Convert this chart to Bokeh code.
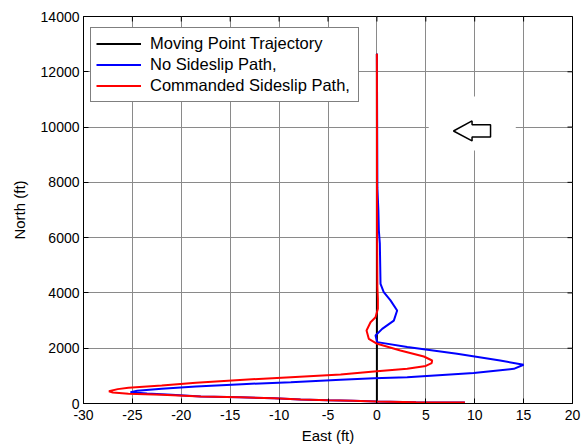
import math
from bokeh.plotting import figure
from bokeh.models import (Legend, LegendItem, FixedTicker, Range1d)
from bokeh.embed import file_html
from bokeh.resources import INLINE

# ---- data (East ft, North ft) ----
black_east = [0.0, 0.0]
black_north = [0, 12650]

red_east = [9.0, 4.0, 0.0, -2.5, -5.0, -7.8, -10.5, -14.0, -18.0, -22.0, -25.4, -27.0,
            -27.4, -26.5, -25.4, -22.0, -18.5, -14.0, -8.8, -3.7, -0.3, 3.1, 5.0, 5.6,
            5.65, 4.8, 2.4, 0.03, -0.83, -1.06, -0.65, -0.14, 0.1, 0.1, 0.05, 0.02, 0.0]
red_north = [35, 45, 75, 100, 120, 145, 190, 228, 253, 315, 350, 400,
             445, 520, 568, 651, 748, 850, 952, 1050, 1158, 1255, 1360, 1460,
             1555, 1700, 1920, 2160, 2340, 2640, 2940, 3120, 3430, 3790, 4210, 6000, 12650]

blue_east = [9.0, 4.0, 0.0, -2.5, -5.0, -7.8, -10.5, -14.0, -18.0, -21.0, -23.5, -25.2,
             -24.5, -22.0, -18.5, -13.8, -8.8, -3.7, -0.3, 3.1, 9.9, 14.0, 15.0, 12.6,
             8.2, 3.1, 0.03, -0.14, 0.54, 1.73, 2.07, 1.39, 0.7, 0.37, 0.3, 0.2, 0.15,
             0.05, 0.0]
blue_north = [35, 45, 75, 100, 120, 145, 190, 228, 253, 320, 360, 410,
              460, 530, 615, 700, 771, 857, 916, 950, 1100, 1255, 1400, 1555,
              1800, 2040, 2220, 2460, 2700, 3000, 3365, 3730, 4030, 4330, 5790, 6260, 7000,
              7800, 12650]

x_ticks = [-30, -25, -20, -15, -10, -5, 0, 5, 10, 15, 20]
y_ticks = [0, 2000, 4000, 6000, 8000, 10000, 12000, 14000]
x_tick_labels = ["-30", "-25", "-20", "-15", "-10", "-5", "0", "5", "10", "15", "20"]

labels = ["Moving Point Trajectory", "No Sideslip Path,", "Commanded Sideslip Path,"]

# annotation (hollow left arrow on white patch)
arrow_box = dict(left=5.3, right=14.2, bottom=9150, top=11110)
arrow_x = [7.83, 9.73, 9.73, 11.62, 11.62, 9.73, 9.73]
arrow_y = [9859, 10221, 10083, 10083, 9643, 9643, 9498]

FONT = "Liberation Sans"
X0, X1 = -30, 20
Y0, Y1 = 0, 14000

p = figure(width=582, height=447, output_backend="svg", toolbar_location=None,
           x_range=Range1d(X0, X1), y_range=Range1d(Y0, Y1),
           min_border_left=83, min_border_right=10, min_border_top=16, min_border_bottom=44)
p.background_fill_color = "white"
p.border_fill_color = "white"
p.outline_line_color = "black"
p.outline_line_width = 1

for ax in (p.xaxis[0], p.yaxis[0]):
    ax.major_tick_in = 5
    ax.major_tick_out = 0
    ax.minor_tick_line_color = None
    ax.major_label_text_font = FONT
    ax.major_label_text_font_size = "14px"
    ax.major_label_text_color = "black"
    ax.axis_label_text_font = FONT
    ax.axis_label_text_font_size = "15px"
    ax.axis_label_text_font_style = "normal"
    ax.axis_label_text_color = "black"
    ax.axis_line_color = "black"
    ax.major_tick_line_color = "black"

p.xaxis[0].ticker = FixedTicker(ticks=x_ticks)
p.xaxis[0].major_label_overrides = {t: s for t, s in zip(x_ticks, x_tick_labels)}
p.yaxis[0].ticker = FixedTicker(ticks=y_ticks)
p.xaxis[0].axis_label = "East (ft)"
p.yaxis[0].axis_label = "North (ft)"
p.xaxis[0].major_label_standoff = 6
p.xaxis[0].axis_label_standoff = 4
p.yaxis[0].major_label_standoff = 4
p.yaxis[0].axis_label_standoff = 10

p.xgrid.ticker = FixedTicker(ticks=x_ticks)
p.ygrid.ticker = FixedTicker(ticks=y_ticks)
for g in (p.xgrid[0], p.ygrid[0]):
    g.grid_line_color = "#8a8a8a"
    g.grid_line_width = 1

# box ticks on the top and right edges (clipped to the frame -> inward ticks)
p.scatter(x_ticks, [Y1] * len(x_ticks), marker="dash", size=10, angle=math.pi / 2,
          line_color="black", line_width=1)
p.scatter([X1] * len(y_ticks), y_ticks, marker="dash", size=10,
          line_color="black", line_width=1)

# white patch behind the arrow, covering grid
p.quad(left=arrow_box["left"], right=arrow_box["right"], bottom=arrow_box["bottom"],
       top=arrow_box["top"], fill_color="white", line_color=None)
p.patch(arrow_x, arrow_y, fill_color="white", line_color="black", line_width=1.5)

r_black = p.line(black_east, black_north, line_color="black", line_width=2)
r_blue = p.line(blue_east, blue_north, line_color="blue", line_width=2)
r_red = p.line(red_east, red_north, line_color="red", line_width=2)

legend = Legend(items=[LegendItem(label=labels[0], renderers=[r_black]),
                       LegendItem(label=labels[1], renderers=[r_blue]),
                       LegendItem(label=labels[2], renderers=[r_red])],
                location=(7, 301))
legend.label_text_font = FONT
legend.label_text_font_size = "16.5px"
legend.label_text_color = "black"
legend.glyph_width = 45
legend.glyph_height = 21
legend.label_height = 21
legend.label_width = 203
legend.label_standoff = 9
legend.spacing = 0
legend.padding = 5
legend.margin = 0
legend.border_line_color = "black"
legend.border_line_width = 1
legend.background_fill_color = "white"
legend.background_fill_alpha = 1
p.add_layout(legend, "center")

open("out.html", "w").write(file_html(p, INLINE))
